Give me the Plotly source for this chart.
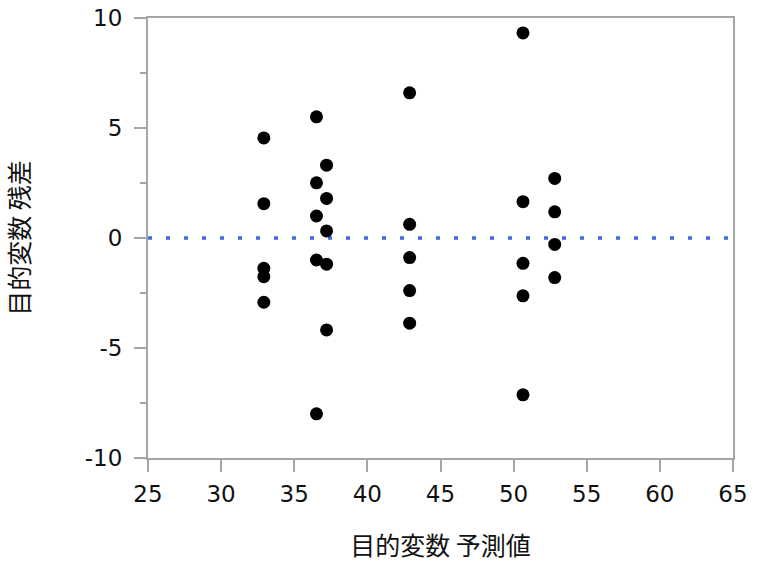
import plotly.graph_objects as go

predicted = [32.92]*5 + [36.52]*5 + [37.21]*5 + [42.89]*5 + [50.64]*5 + [52.81]*4
residual = [4.55, 1.56, -1.38, -1.76, -2.92,
            5.51, 2.51, 1.00, -1.00, -7.99,
            3.31, 1.80, 0.32, -1.19, -4.18,
            6.60, 0.62, -0.89, -2.39, -3.87,
            9.32, 1.65, -1.15, -2.63, -7.13,
            2.71, 1.19, -0.29, -1.80]

x_ticks = [25, 30, 35, 40, 45, 50, 55, 60, 65]
x_tick_labels = ["25", "30", "35", "40", "45", "50", "55", "60", "65"]
y_ticks = [-10, -5, 0, 5, 10]
y_tick_labels = ["-10", "-5", "0", "5", "10"]

x_title = "目的変数 予測値"
y_title = "目的変数 残差"
axis_color = "#a6a6a6"

fig = go.Figure()
fig.add_hline(y=0, line=dict(color="#4169E1", width=3.5, dash="4px,14px"), layer="below")
fig.add_trace(go.Scatter(x=predicted, y=residual, mode="markers",
                         marker=dict(color="black", size=13), showlegend=False))

tick_font = dict(family="DejaVu Sans, Verdana, sans-serif", size=23, color="#111")
title_font = dict(family="Noto Sans CJK JP, sans-serif", size=25, color="#111")

fig.update_layout(
    width=768, height=570,
    margin=dict(l=148, r=35, t=18, b=112),
    plot_bgcolor="white", paper_bgcolor="white",
    xaxis=dict(range=[25, 65], tickvals=x_ticks, ticktext=x_tick_labels,
               showgrid=False, zeroline=False,
               showline=True, mirror=True, linecolor=axis_color, linewidth=2,
               ticks="outside", ticklen=12, tickwidth=2, tickcolor=axis_color,
               automargin=False, ticklabelstandoff=2, ticklabeloverflow="allow",
               tickfont=tick_font, title=dict(text=x_title, font=title_font, standoff=32)),
    yaxis=dict(range=[-10, 10], tickvals=y_ticks, ticktext=y_tick_labels,
               showgrid=False, zeroline=False,
               showline=True, mirror=True, linecolor=axis_color, linewidth=2,
               ticks="outside", ticklen=12, tickwidth=2, tickcolor=axis_color,
               automargin=False, ticklabelstandoff=7, ticklabeloverflow="allow",
               minor=dict(dtick=2.5, ticks="outside", ticklen=6, tickwidth=2, tickcolor=axis_color),
               tickfont=tick_font, title=dict(text=y_title, font=title_font, standoff=56)),
)

fig.write_html("out.html", config={"displayModeBar": False},
               post_script="document.body.style.margin='0px';")
